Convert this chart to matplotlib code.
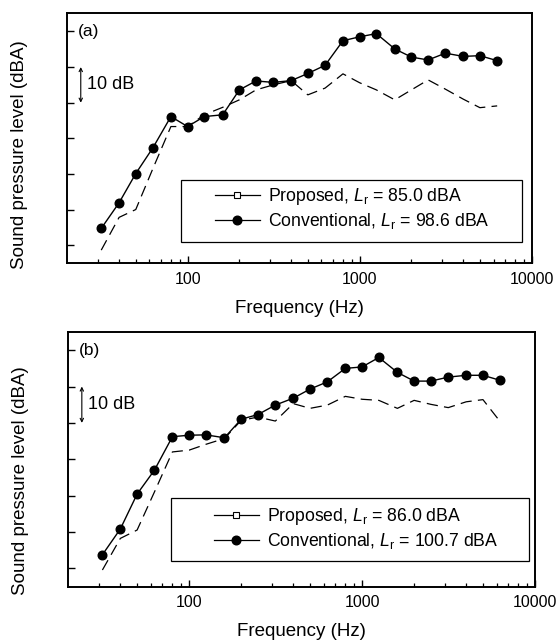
import matplotlib
matplotlib.use("Agg")
import matplotlib.pyplot as plt
from matplotlib.lines import Line2D
from matplotlib.patches import Rectangle
from matplotlib.ticker import FixedLocator, NullFormatter, FixedFormatter

plt.rcParams['font.family'] = ['Liberation Sans', 'DejaVu Sans']
plt.rcParams['mathtext.fontset'] = 'custom'
plt.rcParams['mathtext.it'] = 'Liberation Sans:italic'
plt.rcParams['mathtext.rm'] = 'Liberation Sans'

# 1/3-octave band centre frequencies (Hz)
freqs = [31.5, 40, 50, 63, 80, 100, 125, 160, 200, 250, 315, 400, 500, 630,
         800, 1000, 1250, 1600, 2000, 2500, 3150, 4000, 5000, 6300]

# Panel (a) levels (dB, relative scale; ticks every 10 dB)
conv_a = [34.7, 41.9, 50.1, 57.4, 66.1, 63.3, 66.1, 66.6, 73.6, 76.1, 75.7, 76.2,
          78.2, 80.5, 87.4, 88.5, 89.4, 85.1, 82.8, 82.0, 83.9, 83.0, 83.2, 81.8]
prop_a = [28.6, 37.8, 40.0, 51.6, 63.3, 63.3, 66.6, 68.7, 70.8, 73.6, 75.0, 76.2,
          72.2, 74.1, 78.1, 75.6, 73.6, 70.8, 73.6, 76.4, 73.8, 71.0, 68.6, 69.1]

# Panel (b) levels
conv_b = [33.7, 40.8, 50.4, 57.0, 66.2, 66.6, 66.7, 65.9, 71.0, 72.3, 74.9, 76.8,
          79.3, 81.3, 85.0, 85.4, 88.0, 83.9, 81.5, 81.5, 82.6, 83.1, 83.1, 81.7]
prop_b = [29.5, 38.2, 40.5, 51.0, 62.0, 62.5, 64.1, 65.7, 70.7, 71.6, 70.5, 75.3,
          74.0, 74.9, 77.3, 76.5, 76.2, 74.0, 76.2, 75.1, 74.2, 75.8, 76.4, 70.3]

ytick_vals = [30, 40, 50, 60, 70, 80, 90]
xmajor = [100, 1000, 10000]
xmajor_labels = ['100', '1000', '10000']
xminor = [30, 40, 50, 60, 70, 80, 90, 200, 300, 400, 500, 600, 700, 800, 900,
          2000, 3000, 4000, 5000, 6000, 7000, 8000, 9000]

legend_a = ['Proposed, $L_{\\mathrm{r}}$ = 85.0 dBA', 'Conventional, $L_{\\mathrm{r}}$ = 98.6 dBA']
legend_b = ['Proposed, $L_{\\mathrm{r}}$ = 86.0 dBA', 'Conventional, $L_{\\mathrm{r}}$ = 100.7 dBA']

W, H = 560, 641
fig = plt.figure(figsize=(W / 100, H / 100), dpi=100)

def px_axes(l, t, r, b):
    return fig.add_axes([l / W, 1 - b / H, (r - l) / W, (b - t) / H])

A_BOX = (67.3, 13.3, 531.7, 263.3)
B_BOX = (68.3, 331.7, 535.0, 586.7)
ax_a = px_axes(*A_BOX)
ax_b = px_axes(*B_BOX)

def to_ax(box, x, y):
    l, t, r, b = box
    return ((x - l) / (r - l), (b - y) / (b - t))

def draw(ax, box, conv, prop, panel, labels, frame_px, handle_px, xlab_y, ylab_y):
    ax.plot(freqs, prop, color='black', lw=0.9, dashes=(9, 5))
    ax.plot(freqs, conv, color='black', lw=1.0, marker='o', ms=6.2,
            markerfacecolor='black', markeredgecolor='black')
    ax.set_xscale('log')
    ax.set_xlim(20, 10000)
    ax.set_ylim(24.9, 95.1)
    ax.xaxis.set_major_locator(FixedLocator(xmajor))
    ax.xaxis.set_major_formatter(FixedFormatter(xmajor_labels))
    ax.xaxis.set_minor_locator(FixedLocator(xminor))
    ax.xaxis.set_minor_formatter(NullFormatter())
    ax.set_yticks(ytick_vals)
    ax.set_yticklabels([])
    ax.tick_params(axis='both', which='major', direction='in', length=5, width=1.0,
                   labelsize=11.5, pad=6, top=False, right=False)
    ax.tick_params(axis='x', which='minor', direction='in', length=3, width=0.9,
                   top=False)
    for s in ax.spines.values():
        s.set_linewidth(1.4)
    ax.set_xlabel('Frequency (Hz)', fontsize=13.5)
    ax.xaxis.set_label_coords(0.5, xlab_y)
    ax.set_ylabel('Sound pressure level (dBA)', fontsize=13.5)
    ax.yaxis.set_label_coords(-0.085, ylab_y)
    ax.text(0.023, 90, panel, transform=ax.get_yaxis_transform(), fontsize=12.5,
            ha='left', va='center')
    ax.annotate('', xy=(0.029, 80), xytext=(0.029, 70),
                xycoords=ax.get_yaxis_transform(),
                arrowprops=dict(arrowstyle='<->', lw=0.8, mutation_scale=6,
                                shrinkA=0, shrinkB=0, color='black'))
    ax.text(0.042, 75, '10 dB', transform=ax.get_yaxis_transform(), fontsize=13,
            ha='left', va='center')
    # legend frame
    fl, ft, fr, fb = frame_px
    x0, y0 = to_ax(box, fl, fb)
    x1, y1 = to_ax(box, fr, ft)
    ax.add_patch(Rectangle((x0, y0), x1 - x0, y1 - y0, transform=ax.transAxes,
                           facecolor='white', edgecolor='black', lw=0.9, zorder=4))
    handles = [
        Line2D([], [], color='black', lw=0.9, marker='s', ms=5,
               markerfacecolor='white', markeredgecolor='black', markeredgewidth=0.8),
        Line2D([], [], color='black', lw=0.9, marker='o', ms=6.2,
               markerfacecolor='black', markeredgecolor='black'),
    ]
    hx, hy = to_ax(box, *handle_px)
    leg = ax.legend(handles, labels, loc='center left', bbox_to_anchor=(hx, hy),
                    fontsize=12.7, frameon=False,
                    handlelength=2.55, handletextpad=0.45, labelspacing=0.2,
                    borderpad=0, borderaxespad=0)
    leg.set_zorder(5)

draw(ax_a, A_BOX, conv_a, prop_a, '(a)', legend_a,
     (181, 180, 522, 242), (215, 208.5), -0.147, 0.433)
draw(ax_b, B_BOX, conv_b, prop_b, '(b)', legend_b,
     (171, 498, 529, 561), (214, 528.5), -0.1435, 0.416)

fig.savefig('out.png', dpi=100)
